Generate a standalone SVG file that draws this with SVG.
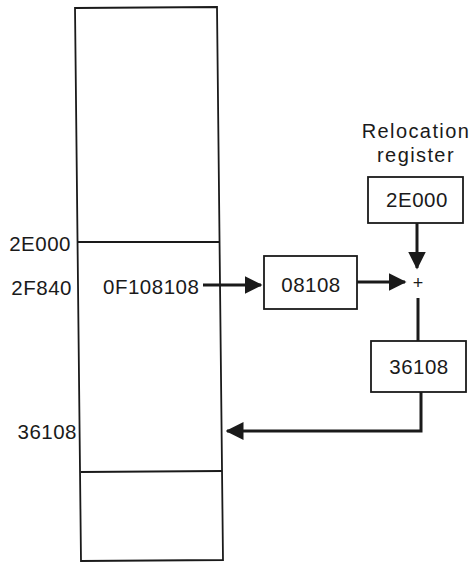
<svg xmlns="http://www.w3.org/2000/svg" width="474" height="563" viewBox="0 0 474 563">
<style>
text{font-family:"Liberation Sans",Arial,sans-serif;font-size:20.5px;letter-spacing:0.5px;fill:#1a1a1a}
.box{fill:#fff;stroke:#1a1a1a;stroke-width:1.8}
.ln{fill:none;stroke:#1a1a1a;stroke-width:1.8}
.conn{fill:none;stroke:#1a1a1a;stroke-width:3}
.m{text-anchor:middle}
.e{text-anchor:end}
.lab{font-size:20px;letter-spacing:1.4px}
</style>
<defs>
<marker id="ah" markerWidth="6" markerHeight="6" refX="5.5" refY="3" orient="auto" markerUnits="strokeWidth">
<path d="M0,0 L6,3 L0,6 Z" fill="#1a1a1a"/>
</marker>
</defs>
<rect width="474" height="563" fill="#fff"/>
<g id="memory">
<polygon class="box" points="75,8 217,7 223,560 81,561"/>
<line class="ln" x1="78" y1="242" x2="219" y2="242"/>
<line class="ln" x1="81" y1="472" x2="222" y2="471"/>
<text class="e" x="71" y="251">2E000</text>
<text class="e" x="72" y="295">2F840</text>
<text class="e" x="77" y="439">36108</text>
<text x="103" y="294">0F108108</text>
</g>
<g id="offset">
<rect class="box" x="264" y="256" width="93" height="53"/>
<text class="m" x="311" y="292">08108</text>
</g>
<g id="relocation">
<text class="m lab" x="416" y="138">Relocation</text>
<text class="m lab" x="416" y="162">register</text>
<rect class="box" x="368" y="177" width="95" height="46"/>
<text class="m" x="417" y="207">2E000</text>
</g>
<g id="adder">
<text class="m" x="418" y="289" style="font-size:18px;letter-spacing:0">+</text>
</g>
<g id="result">
<rect class="box" x="371" y="341" width="95" height="51"/>
<text class="m" x="419" y="374">36108</text>
</g>
<g id="connectors">
<line class="conn" x1="203" y1="285" x2="261" y2="285" marker-end="url(#ah)"/>
<line class="conn" x1="357" y1="282" x2="405" y2="282" marker-end="url(#ah)"/>
<line class="conn" x1="417" y1="223" x2="417" y2="268" marker-end="url(#ah)"/>
<line class="conn" x1="418" y1="298" x2="418" y2="341"/>
<polyline class="conn" points="421,392 421,431 227,431" marker-end="url(#ah)"/>
</g>
</svg>
